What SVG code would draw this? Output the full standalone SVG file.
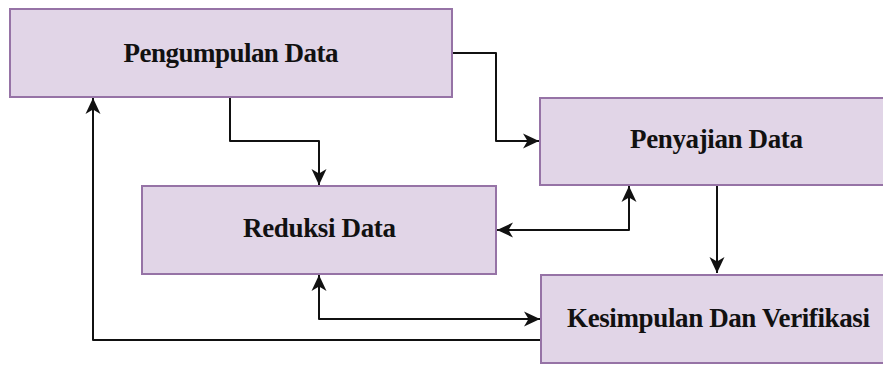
<svg xmlns="http://www.w3.org/2000/svg" width="883" height="365" viewBox="0 0 883 365">
  <style>
    .box { fill: #e1d5e7; stroke: #9673a6; stroke-width: 2; }
    .label { font-family: "Liberation Serif", "Times New Roman", serif; font-weight: bold; font-size: 27px; fill: #111111; text-anchor: middle; }
    .edge { fill: none; stroke: #111; stroke-width: 2; stroke-linejoin: round; }
  </style>
  <defs>
    <marker id="arrow" markerUnits="userSpaceOnUse" markerWidth="17" markerHeight="17" viewBox="0 0 17 17" refX="16" refY="8.5" orient="auto-start-reverse">
      <path d="M0,1 L16,8.5 L0,16 L4.5,8.5 Z" fill="#111"/>
    </marker>
  </defs>
  <rect x="0" y="0" width="883" height="365" fill="#ffffff"/>

  <g id="connectors">
    <path class="edge" d="M452,53 H496 V141 H539" marker-end="url(#arrow)"/>
    <path class="edge" d="M230,97 V141 H319 V185" marker-end="url(#arrow)"/>
    <path class="edge" d="M497,230 H629 V186" marker-start="url(#arrow)" marker-end="url(#arrow)"/>
    <path class="edge" d="M717,186 V273" marker-end="url(#arrow)"/>
    <path class="edge" d="M319,275 V319 H540" marker-start="url(#arrow)" marker-end="url(#arrow)"/>
    <path class="edge" d="M541,340 H93 V98" marker-end="url(#arrow)"/>
  </g>

  <g id="pengumpulan-data">
    <rect class="box" x="10" y="9" width="442" height="88"/>
    <text class="label" x="231" y="62" textLength="215">Pengumpulan Data</text>
  </g>
  <g id="penyajian-data">
    <rect class="box" x="540" y="98" width="353" height="87"/>
    <text class="label" x="716.5" y="148" textLength="173">Penyajian Data</text>
  </g>
  <g id="reduksi-data">
    <rect class="box" x="142" y="186" width="354" height="88"/>
    <text class="label" x="319.5" y="237" textLength="153">Reduksi Data</text>
  </g>
  <g id="kesimpulan-verifikasi">
    <rect class="box" x="541" y="275" width="352" height="88"/>
    <text class="label" x="718.5" y="327" textLength="303">Kesimpulan Dan Verifikasi</text>
  </g>
</svg>
